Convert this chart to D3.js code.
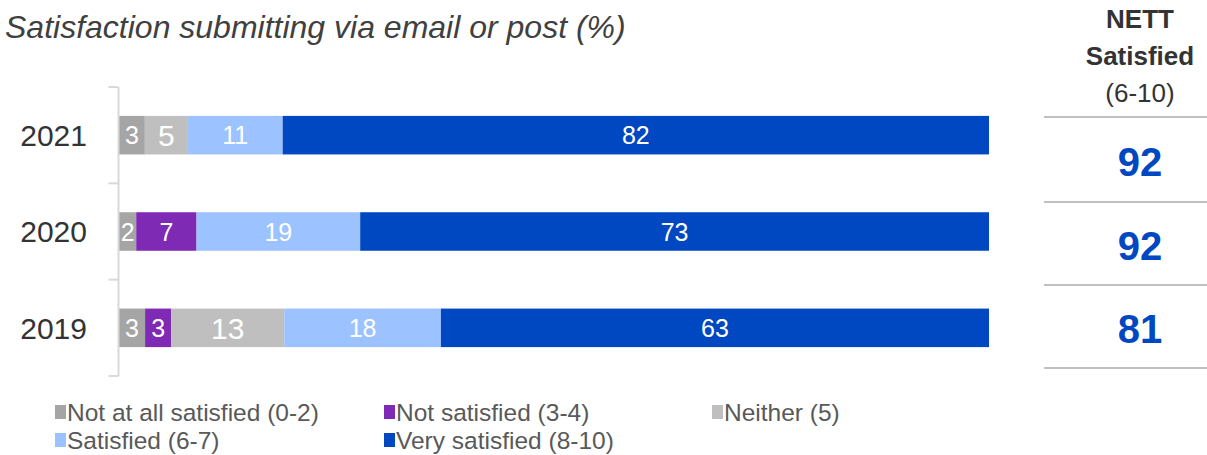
<!DOCTYPE html>
<html>
<head>
<meta charset="utf-8">
<script src="https://cdn.jsdelivr.net/npm/d3@7"></script>
<style>
  html, body { margin: 0; padding: 0; background: #fff; }
  svg { display: block; font-family: "Liberation Sans", Arial, sans-serif; }
</style>
</head>
<body>
<svg id="chart" width="1207" height="455"></svg>
<script>
// Survey years, top to bottom
const years = ["2021", "2020", "2019"];

// Response categories (stack order, left to right)
const categories = [
  "Not at all satisfied (0-2)",
  "Not satisfied (3-4)",
  "Neither (5)",
  "Satisfied (6-7)",
  "Very satisfied (8-10)"
];

// Percentages per category, one value per year (same order as years)
const notAtAll      = [3, 2, 3];
const notSatisfied  = [0, 7, 3];
const neither       = [5, 0, 13];
const satisfied     = [11, 19, 18];
const verySatisfied = [82, 73, 63];

// NETT satisfied (6-10) per year
const nettSatisfied = [92, 92, 81];

const seriesValues = [notAtAll, notSatisfied, neither, satisfied, verySatisfied];
const colors = ["#a5a5a5", "#7f2ab5", "#bfbfbf", "#9cc2ff", "#0048c1"];
const labelSizes = [25, 25, 30, 25, 25];

const svg = d3.select("#chart");

// Title
svg.append("text")
  .attr("x", 5).attr("y", 38)
  .attr("font-size", 32).attr("font-style", "italic")
  .attr("fill", "#404040")
  .text("Satisfaction submitting via email or post (%)");

// Layout
const x0 = 119, x1 = 989;
const y = d3.scaleBand().domain(years).range([87, 376])
  .paddingInner(0.6).paddingOuter(0.3);

// Rows: each bar is a 100% stack of its category values
const rows = years.map((yr, i) => {
  const vals = seriesValues.map(s => s[i]);
  const total = d3.sum(vals);
  const xs = d3.scaleLinear().domain([0, total]).range([x0, x1]);
  let acc = 0;
  const segs = vals.map((v, k) => {
    const s = { year: yr, k, v, a: acc, b: acc + v, xs };
    acc += v;
    return s;
  });
  return segs.filter(s => s.v > 0);
});

const barG = svg.append("g");
rows.forEach(segs => {
  const g = barG.append("g");
  g.selectAll("rect").data(segs).enter().append("rect")
    .attr("x", d => d.xs(d.a))
    .attr("y", d => y(d.year))
    .attr("width", d => d.xs(d.b) - d.xs(d.a))
    .attr("height", y.bandwidth())
    .attr("fill", d => colors[d.k]);
  g.selectAll("text").data(segs).enter().append("text")
    .attr("x", d => (d.xs(d.a) + d.xs(d.b)) / 2)
    .attr("y", d => y(d.year) + y.bandwidth() / 2)
    .attr("dy", "0.36em")
    .attr("text-anchor", "middle")
    .attr("font-size", d => labelSizes[d.k])
    .attr("fill", "#fff")
    .text(d => d.v);
});

// Category axis: vertical line with ticks on the band boundaries
const axisX = 118.5;
const axisG = svg.append("g").attr("stroke", "#d9d9d9").attr("stroke-width", 2);
axisG.append("line").attr("x1", axisX).attr("x2", axisX)
  .attr("y1", y.range()[0]).attr("y2", y.range()[1]);
const boundaries = d3.range(years.length + 1).map(i => y.range()[0] + i * y.step());
axisG.selectAll("line.tick").data(boundaries).enter().append("line")
  .attr("class", "tick")
  .attr("x1", axisX - 10).attr("x2", axisX)
  .attr("y1", d => d).attr("y2", d => d);

// Year labels
svg.append("g").selectAll("text").data(years).enter().append("text")
  .attr("x", 87).attr("y", d => y(d) + y.bandwidth() / 2)
  .attr("dy", "0.36em").attr("text-anchor", "end")
  .attr("font-size", 30).attr("fill", "#333")
  .text(d => d);

// NETT column
const cx = 1140;
const head = svg.append("g").attr("text-anchor", "middle").attr("fill", "#333");
head.append("text").attr("x", cx).attr("y", 28).attr("font-size", 26).attr("font-weight", "bold").text("NETT");
head.append("text").attr("x", cx).attr("y", 65).attr("font-size", 26).attr("font-weight", "bold").text("Satisfied");
head.append("text").attr("x", cx).attr("y", 102).attr("font-size", 26).text("(6-10)");

const ruleYs = [117, 202, 285, 368];
svg.append("g").selectAll("line").data(ruleYs).enter().append("line")
  .attr("x1", 1044).attr("x2", 1207)
  .attr("y1", d => d).attr("y2", d => d)
  .attr("stroke", "#c0c0c0").attr("stroke-width", 2);

svg.append("g").selectAll("text").data(nettSatisfied).enter().append("text")
  .attr("x", cx)
  .attr("y", (d, i) => (ruleYs[i] + ruleYs[i + 1]) / 2 + 2)
  .attr("dy", "0.36em")
  .attr("text-anchor", "middle")
  .attr("font-size", 40).attr("font-weight", "bold")
  .attr("fill", "#0048c1")
  .text(d => d);

// Legend
const legendPos = [[55, 412], [384, 412], [712, 412], [55, 440], [384, 440]];
const leg = svg.append("g").selectAll("g").data(categories).enter().append("g")
  .attr("transform", (d, i) => `translate(${legendPos[i][0]},${legendPos[i][1]})`);
leg.append("rect").attr("x", 0).attr("y", -7).attr("width", 11).attr("height", 14)
  .attr("fill", (d, i) => colors[i]);
leg.append("text").attr("x", 12).attr("y", 0).attr("dy", "0.36em")
  .attr("font-size", 24.5).attr("fill", "#595959")
  .text(d => d);
</script>
</body>
</html>
